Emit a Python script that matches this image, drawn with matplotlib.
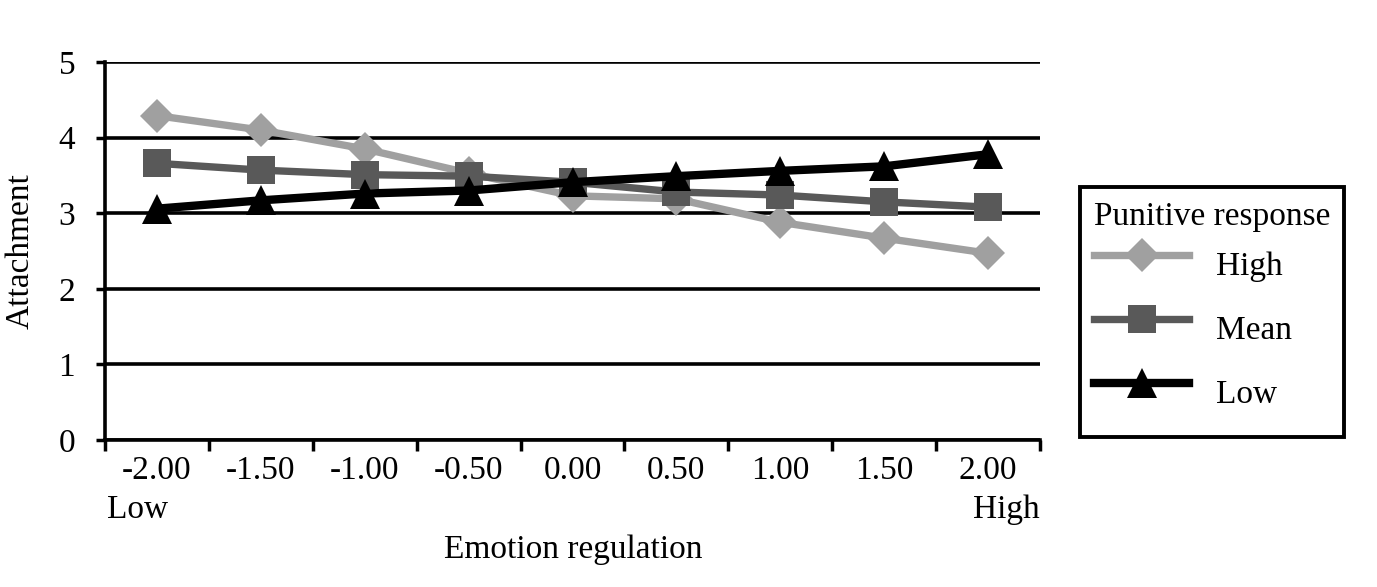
import matplotlib
matplotlib.use("Agg")
import matplotlib.pyplot as plt

plt.rcParams['font.family'] = ['Liberation Serif', 'DejaVu Serif']
plt.rcParams['font.size'] = 24

categorias = ["-2.00", "-1.50", "-1.00", "-0.50", "0.00", "0.50", "1.00", "1.50", "2.00"]
respuesta_alta = [4.29, 4.10, 3.85, 3.53, 3.23, 3.19, 2.88, 2.67, 2.47]
respuesta_media = [3.66, 3.57, 3.51, 3.49, 3.41, 3.28, 3.24, 3.15, 3.08]
respuesta_baja = [3.06, 3.17, 3.26, 3.30, 3.41, 3.49, 3.56, 3.62, 3.78]
etiquetas = ["High", "Mean", "Low"]
valores_y = [0, 1, 2, 3, 4, 5]

fig = plt.figure(figsize=(13.77, 5.87), dpi=100)
ax = fig.add_axes([105 / 1377, 1 - 440 / 587, 935 / 1377, 378 / 587])

x = list(range(len(categorias)))
ax.plot(x, respuesta_alta, color="#a0a0a0", lw=5.3, marker="D", ms=17.5, mew=0,
        label=etiquetas[0], zorder=3)
ax.plot(x, respuesta_media, color="#595959", lw=5.3, marker="s", ms=19.5, mew=0,
        label=etiquetas[1], zorder=4)
ax.plot(x, respuesta_baja, color="black", lw=6, marker="^", ms=21, mew=0,
        label=etiquetas[2], zorder=5)

ax.set_xlim(-0.5, len(categorias) - 0.5)
ax.set_ylim(0, 5)
ax.set_yticks(valores_y)
ax.set_xticks(x)
ax.set_xticklabels(categorias)
ax.set_xticks([i - 0.5 for i in range(len(categorias) + 1)], minor=True)
ax.tick_params(axis="x", which="major", length=0, pad=11)
ax.tick_params(axis="x", which="minor", length=8, width=2.5, direction="out")
ax.tick_params(axis="y", length=6.5, width=2.5, pad=15)

ax.grid(axis="y", color="black", lw=2.6)
ax.set_axisbelow(True)
for lado in ["top", "right"]:
    ax.spines[lado].set_visible(False)
for lado in ["left", "bottom"]:
    ax.spines[lado].set_linewidth(2.6)

fig.text(0.0145, 1 - 251 / 587, "Attachment", rotation=90, ha="center", va="center")
fig.text(573 / 1377, 1 - 550 / 587, "Emotion regulation", ha="center", va="center")
fig.text(107 / 1377, 1 - 510 / 587, "Low", ha="left", va="center")
fig.text(1040 / 1377, 1 - 510 / 587, "High", ha="right", va="center")

leg = ax.legend(title="Punitive response", loc="upper left",
                bbox_to_anchor=(1080 / 1377, 1 - 187 / 587),
                bbox_transform=fig.transFigure, frameon=True, fancybox=False,
                framealpha=1, edgecolor="black", borderpad=0.42,
                handlelength=2.85, handleheight=2.42, handletextpad=0.8,
                labelspacing=0.1, alignment="left", borderaxespad=0)
leg.get_frame().set_linewidth(2.8)
leg.get_title().set_fontsize(24)

fig.savefig("out.png", dpi=100)
